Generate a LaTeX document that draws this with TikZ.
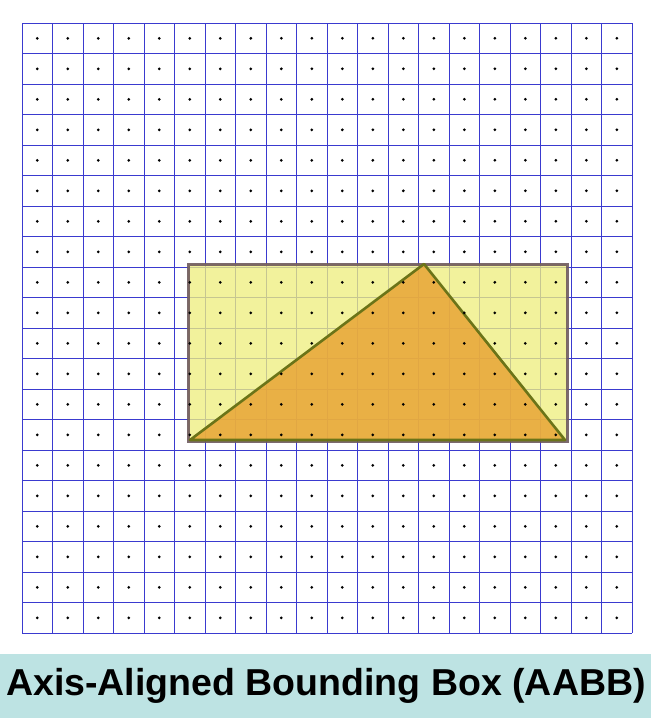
\documentclass[tikz,border=0pt]{standalone}
\usepackage{fontspec}
\setmainfont{Liberation Sans}
\usetikzlibrary{positioning}
\definecolor{gridblue}{HTML}{3A3ACF}
\definecolor{boxfill}{HTML}{EEEE80}
\definecolor{boxedge}{HTML}{6E5A5E}
\definecolor{trifill}{HTML}{E8A030}
\definecolor{triedge}{HTML}{6B7418}
\definecolor{band}{HTML}{BDE3E3}

\tikzset{
  gridline/.style={gridblue,line width=0.8pt},
  cellpt/.style={fill=black},
  aabb/.style={fill=boxfill,fill opacity=0.78,draw=boxedge,line width=3pt,draw opacity=0.9},
  tripoly/.style={fill=trifill,fill opacity=0.8,draw=triedge,line width=2.6pt,draw opacity=1,line join=round},
  caption/.style={font=\bfseries\fontsize{37.5}{42}\selectfont,text=black,inner sep=0pt}
}

\begin{document}
\begin{tikzpicture}[x=1pt,y=-1pt]
  \useasboundingbox (0,0) rectangle (651,718);
  % caption band
  \fill[band] (0,654) rectangle (651,718);
  \node[caption] (title) at (326,686) {Axis-Aligned Bounding Box (AABB)};
  % grid
  \foreach \i in {0,...,20} {
    \draw[gridline] (22+30.5*\i,23) -- (22+30.5*\i,633);
    \draw[gridline] (22,23+30.5*\i) -- (632,23+30.5*\i);
  }
  % bounding box and triangle
  \coordinate (p1) at (190,440);
  \coordinate (p2) at (424,264);
  \coordinate (p3) at (565,440);
  \draw[aabb] (188,264) rectangle (567,441);
  \draw[tripoly] (p1) -- (p2) -- (p3) -- cycle;
  % a dot in every cell
  \foreach \i in {0,...,19}
    \foreach \j in {0,...,19}
      \fill[cellpt] (37.25+30.5*\i,38.25+30.5*\j) circle (1.5);
\end{tikzpicture}
\end{document}
